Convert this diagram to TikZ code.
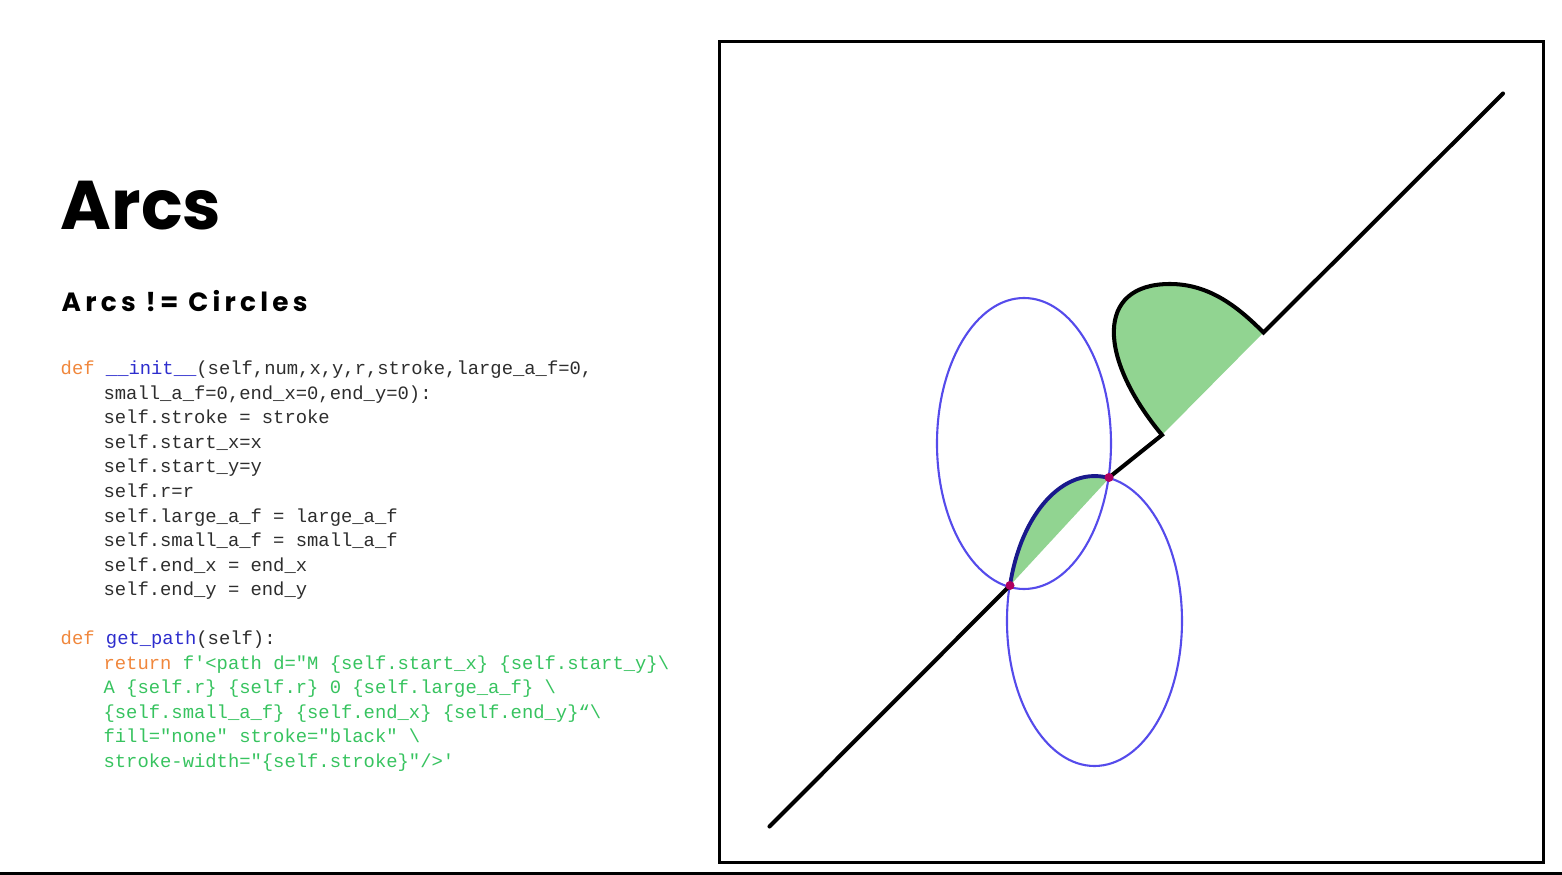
\documentclass[tikz,border=0pt]{standalone}
\usepackage{fontspec}
\usepackage{tikz}
\usetikzlibrary{positioning}
\newfontfamily\headfont{Poppins}
\newfontfamily\spacedfont{Poppins}[LetterSpace=16]
\newfontfamily\codefont{Liberation Mono}
\definecolor{kwcol}{RGB}{240,135,60}
\definecolor{fncol}{RGB}{45,45,205}
\definecolor{strcol}{RGB}{55,195,95}
\definecolor{txtcol}{RGB}{45,45,45}
\definecolor{arcfill}{RGB}{145,212,145}
\definecolor{ringcol}{RGB}{85,75,235}
\definecolor{arcblue}{RGB}{25,25,140}
\definecolor{dotcol}{RGB}{175,0,95}
\newcommand{\kw}[1]{\textcolor{kwcol}{#1}}
\newcommand{\fn}[1]{\textcolor{fncol}{#1}}
\newcommand{\strc}[1]{\textcolor{strcol}{#1}}
\newcommand{\ind}{\hspace*{12.2pt}}
\tikzset{
	txt/.style={anchor=base west,inner sep=0pt},
	ring/.style={draw=ringcol,line width=0.6pt},
	thickline/.style={line width=1.15pt,line cap=round,line join=miter},
	dot/.style={fill=dotcol}
}

\begin{document}
\begin{tikzpicture}[x=0.01cm,y=0.01cm]
		\useasboundingbox (0,0) rectangle (1562,875);
		\node[txt,font=\headfont\bfseries\fontsize{19.6pt}{22pt}\selectfont] (title) at (60,645.7) {Arcs};
		\node[txt,font=\spacedfont\bfseries\fontsize{7.5pt}{9pt}\selectfont] (sub) at (61,563.5) {Arcs != Circles};
		\node[txt,align=left,text=txtcol,font=\codefont\fontsize{5.36pt}{6.98pt}\selectfont] (code) at (60,107.5) {%
\kw{def} \fn{\_\_init\_\_}(self,num,x,y,r,stroke,large\_a\_f=0,\\
\ind small\_a\_f=0,end\_x=0,end\_y=0):\\
\ind self.stroke = stroke\\
\ind self.start\_x=x\\
\ind self.start\_y=y\\
\ind self.r=r\\
\ind self.large\_a\_f = large\_a\_f\\
\ind self.small\_a\_f = small\_a\_f\\
\ind self.end\_x = end\_x\\
\ind self.end\_y = end\_y\\[6.98pt]
\kw{def} \fn{get\_path}(self):\\
\ind \kw{return} \strc{f\textquotesingle<path d="M \{self.start\_x\} \{self.start\_y\}\textbackslash}\\
\ind \strc{A \{self.r\} \{self.r\} 0 \{self.large\_a\_f\} \textbackslash}\\
\ind \strc{\{self.small\_a\_f\} \{self.end\_x\} \{self.end\_y\}“\textbackslash}\\
\ind \strc{fill="none" stroke="black" \textbackslash}\\
\ind \strc{stroke-width="\{self.stroke\}"/>\textquotesingle}};

		\draw[line width=1pt] (719.5,12.5) rectangle (1543.5,833.5);
		\draw[line width=0.8pt] (0,1.3) -- (1562,1.3);

		\coordinate (L0) at (769.5,48.5);
		\coordinate (P1) at (1010,289.5);
		\coordinate (P2) at (1109,397.5);
		\coordinate (P3) at (1162,440);
		\coordinate (T) at (1170,591);
		\coordinate (P4) at (1263.5,542.5);
		\coordinate (L5) at (1503,781.5);

		\fill[arcfill] (P1) arc[start angle=165.8,end angle=80.5,x radius=87.5,y radius=145] -- cycle;
		\fill[arcfill] (P3) .. controls (1098,517) and (1095,591) .. (T) .. controls (1210,591) and (1238.8,567.2) .. (P4) -- cycle;

		\draw[ring] (1024,431.5) ellipse[x radius=87,y radius=145.5];
		\draw[ring] (1094.5,254) ellipse[x radius=87.5,y radius=145];

		\draw[thickline] (L0) -- (P1);
		\draw[thickline] (P2) -- (P3) .. controls (1098,517) and (1095,591) .. (T) .. controls (1210,591) and (1238.8,567.2) .. (P4) -- (L5);
		\draw[arcblue,line width=1.1pt] (P1) arc[start angle=165.8,end angle=80.5,x radius=87.5,y radius=145];

		\fill[dot] (P1) circle[radius=4.5];
		\fill[dot] (P2) circle[radius=4.5];
	\end{tikzpicture}
\end{document}
